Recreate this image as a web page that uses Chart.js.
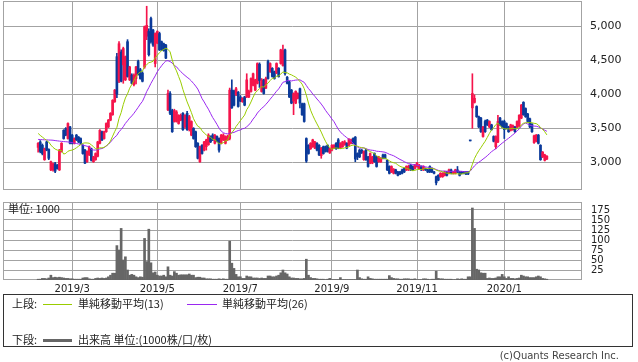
<!DOCTYPE html>
<html><head><meta charset="utf-8">
<script src="https://cdn.jsdelivr.net/npm/chart.js@4.4.1/dist/chart.umd.min.js"></script>
<style>
html,body{margin:0;padding:0;background:#fff}
#wrap{position:relative;width:638px;height:362px;overflow:hidden;color:#222;font-family:"Noto Sans CJK JP","DejaVu Sans",sans-serif}
canvas{position:absolute;left:0}
#c1{top:0}
#c2{top:195px}
.t{position:absolute;white-space:nowrap;font-size:11px;line-height:13px}
.ln{position:absolute}
#box{position:absolute;left:3px;top:294px;width:630px;height:53px;border:1px solid #333;box-sizing:border-box}
#copy{position:absolute;right:19px;top:350px;font-family:"DejaVu Sans",sans-serif;font-size:10px;line-height:12px;color:#444}
</style></head>
<body><div id="wrap">
<canvas id="c1" width="638" height="195"></canvas>
<canvas id="c2" width="638" height="105"></canvas>
<div class="t" id="unit" style="left:8px;top:202px">単位: 1000</div>
<div id="box"></div>
<div class="t" style="left:12px;top:297px">上段:</div>
<div class="ln" style="left:43px;top:304px;width:29px;height:1px;background:#99cc00"></div>
<div class="t" style="left:78px;top:297px">単純移動平均(13)</div>
<div class="ln" style="left:187px;top:304px;width:30px;height:1px;background:#9a28f0"></div>
<div class="t" style="left:222px;top:297px">単純移動平均(26)</div>
<div class="t" style="left:12px;top:333px">下段:</div>
<div class="ln" style="left:43px;top:339px;width:29px;height:3px;background:#666"></div>
<div class="t" style="left:78px;top:333px">出来高 単位:(1000株/口/枚)</div>
<div id="copy">(c)Quants Research Inc.</div>
</div>
<script>
const RED='#f5144b', BLUE='#0b3a9a', GREEN='#99cc00', PURPLE='#9a28f0', VOL='#666666', GRID='#a3a3a3';

// trading days shown on the axis
const months=['2019/1','2019/2','2019/3','2019/4','2019/5','2019/6','2019/7','2019/8','2019/9','2019/10','2019/11','2019/12','2020/1','2020/2'];
const monthDays=[
[15,16,17,18,21,22,23,24,25,28,29,30,31],
[1,4,5,6,7,8,12,13,14,15,18,19,20,21,22,25,26,27,28],
[1,4,5,6,7,8,11,12,13,14,15,18,19,20,22,25,26,27,28,29],
[1,2,3,4,5,8,9,10,11,12,15,16,17,18,19,22,23,24,25,26],
[7,8,9,10,13,14,15,16,17,20,21,22,23,24,27,28,29,30,31],
[3,4,5,6,7,10,11,12,13,14,17,18,19,20,21,24,25,26,27,28],
[1,2,3,4,5,8,9,10,11,12,16,17,18,19,22,23,24,25,26,29,30,31],
[1,2,5,6,7,8,9,13,14,15,16,19,20,21,22,23,26,27,28,29,30],
[2,3,4,5,6,9,10,11,12,13,17,18,19,20,24,25,26,27,30],
[1,2,3,4,7,8,9,10,11,15,16,17,18,21,23,24,25,28,29,30,31],
[1,5,6,7,8,11,12,13,14,15,18,19,20,21,22,25,26,27,28,29],
[2,3,4,5,6,9,10,11,12,13,16,17,18,19,20,23,24,25,26,27,30],
[6,7,8,9,10,14,15,16,17,20,21,22,23,24,27,28,29,30,31],
[3,4,5,6,7,10,12,13,14,17,18,19,20,21,25,26,27,28]];
const firstDay='2019/2/6';
const tickMonths=['2019/3','2019/5','2019/7','2019/9','2019/11','2020/1'];
const priceTicks=[3000,3500,4000,4500,5000];
const volumeTicks=[25,50,75,100,125,150,175];

const opens=[
3220,3300,3250,3040,3300,3190,2890,2890,2980,2960,
2890,3160,3470,3500,3350,3520,3400,3280,3400,3370,
3350,3250,3180,3010,3110,3200,3010,3040,3090,3280,
3450,3350,3450,3520,3620,3700,3890,4550,4190,4620,
4430,4210,4770,4210,4280,4140,4230,4480,4360,4310,
4400,4850,4920,5110,4940,4450,4750,4890,4770,4740,
4720,3770,4010,3760,3600,3600,3570,3620,3720,3520,
3720,3480,3400,3500,3450,3280,3010,3250,3180,3230,
3260,3380,3400,3280,3380,3350,3280,3330,3280,3330,
3350,4060,4050,3990,4030,3960,3890,3960,3960,3960,
4040,4130,4060,4160,4440,4040,4210,4090,4480,4330,
4380,4330,4310,4380,4450,4420,4650,4250,4180,4060,
3900,3870,3940,4080,3860,3860,3350,3250,3200,3230,
3210,3280,3250,3100,3230,3230,3250,3140,3180,3210,
3280,3330,3210,3230,3260,3280,3250,3280,3350,3370,
3130,3180,3180,3040,3180,3080,2990,2990,3130,3080,
3010,3010,3110,3110,3030,2940,2860,2840,2890,2860,
2860,2890,2910,2890,2890,2960,2940,2910,2940,2910,
2940,2890,2910,2890,2940,2910,2860,2790,2810,2790,
2790,2810,2860,2840,2890,2840,2840,2890,2860,2860,
2860,2860,2860,3325,3800,3880,3820,3670,3650,3380,
3600,3620,3520,3550,3380,3230,3300,3650,3600,3600,
3570,3520,3470,3480,3520,3520,3530,3650,3880,3790,
3710,3640,3560,3290,3310,3400,3250,3080,3030,3050];
const highs=[
3290,3320,3270,3210,3310,3200,3020,2990,3000,2970,
3190,3290,3480,3510,3580,3530,3410,3360,3410,3380,
3360,3260,3190,3170,3240,3210,3090,3140,3310,3480,
3460,3460,3580,3630,3730,3920,4070,4600,4770,4650,
4690,4560,4800,4410,4300,4300,4410,4500,4380,4330,
5000,5290,4960,5130,4950,4900,4930,4910,4780,4750,
4730,4060,4040,3780,3780,3760,3700,3710,3730,3700,
3750,3690,3610,3510,3460,3290,3240,3260,3310,3340,
3420,3390,3420,3410,3390,3360,3410,3420,3390,3400,
4090,4210,4060,4100,4040,3980,3950,3970,4300,4060,
4240,4310,4220,4460,4460,4230,4220,4250,4500,4460,
4390,4340,4460,4390,4660,4720,4660,4260,4190,4070,
4020,4050,4020,4090,3870,3870,3360,3260,3290,3340,
3310,3290,3260,3220,3240,3240,3260,3210,3260,3260,
3290,3350,3290,3310,3320,3290,3350,3340,3360,3380,
3140,3190,3190,3170,3190,3090,3140,3090,3140,3090,
3090,3070,3120,3120,3040,2950,2950,2910,2900,2870,
2870,2900,2920,2950,2960,2970,2950,2970,3000,2970,
2950,2950,2920,2900,2950,2920,2870,2800,2820,2850,
2850,2870,2870,2900,2900,2870,2900,2940,2870,2870,
2870,2870,2870,3325,4300,3990,3830,3680,3660,3530,
3620,3630,3610,3560,3390,3390,3690,3660,3610,3620,
3580,3530,3560,3550,3530,3610,3700,3850,3890,3800,
3720,3650,3570,3400,3410,3410,3260,3160,3120,3100];
const lows=[
3150,3140,3110,3030,3170,3040,2880,2870,2850,2900,
2880,3150,3340,3390,3340,3270,3270,3270,3320,3290,
3270,3120,2980,3000,3100,3020,3000,3030,3080,3270,
3320,3340,3440,3510,3610,3690,3880,3950,4170,4180,
4160,4200,4250,4200,4150,4120,4150,4280,4220,4180,
4380,4800,4560,4750,4700,4400,4740,4640,4640,4630,
4520,3760,3700,3440,3590,3590,3560,3610,3470,3500,
3470,3460,3390,3340,3220,3050,3000,3120,3170,3180,
3250,3290,3320,3270,3300,3150,3270,3320,3270,3320,
3330,3790,3830,3980,3810,3890,3880,3830,3950,3950,
4030,4120,4050,4150,4100,4030,4000,4080,4220,4320,
4250,4220,4300,4250,4440,4410,4280,4150,3950,3860,
3700,3860,3930,3800,3690,3590,3000,3120,3190,3220,
3200,3170,3100,3060,3120,3150,3150,3130,3170,3200,
3190,3200,3200,3220,3250,3200,3240,3270,3270,3010,
3040,3070,3130,3030,3030,2930,2980,2980,3000,2930,
3000,3000,3050,3050,2880,2830,2850,2830,2830,2800,
2820,2830,2850,2880,2880,2880,2880,2900,2930,2900,
2880,2880,2880,2850,2850,2850,2830,2670,2730,2780,
2780,2800,2800,2830,2830,2830,2830,2850,2800,2830,
2830,2820,2820,3315,3500,3870,3660,3510,3440,3370,
3440,3540,3510,3470,3300,3200,3290,3540,3510,3350,
3490,3440,3460,3470,3440,3510,3520,3640,3690,3660,
3590,3510,3440,3280,3300,3270,3030,3070,3020,3040];
const closes=[
3280,3160,3130,3200,3180,3060,3010,2980,2870,2910,
3180,3280,3350,3400,3570,3280,3280,3350,3330,3300,
3280,3130,2990,3160,3230,3030,3080,3130,3300,3470,
3330,3450,3570,3620,3720,3910,4060,4000,4740,4190,
4670,4550,4260,4400,4160,4280,4400,4290,4230,4190,
4990,5010,4580,4770,4720,4890,4920,4650,4650,4640,
4530,4010,3720,3450,3760,3740,3690,3690,3480,3690,
3480,3670,3600,3350,3230,3060,3230,3130,3300,3330,
3400,3300,3330,3400,3310,3180,3400,3400,3380,3380,
4060,3800,3840,4080,3820,3900,3940,3840,4210,4040,
4230,4300,4210,4450,4200,4210,4010,4230,4230,4450,
4260,4230,4450,4260,4650,4640,4300,4160,3960,3870,
4010,4040,4010,3870,3700,3600,3020,3130,3280,3330,
3300,3180,3110,3210,3130,3160,3160,3200,3250,3250,
3200,3210,3280,3300,3300,3210,3340,3330,3280,3050,
3080,3080,3140,3160,3040,2940,3130,3080,3010,2940,
3080,3060,3060,3060,2890,2840,2940,2900,2840,2810,
2830,2840,2860,2940,2940,2890,2890,2960,2990,2960,
2890,2940,2890,2860,2860,2860,2840,2700,2740,2840,
2840,2860,2810,2890,2840,2860,2890,2860,2810,2840,
2840,2830,2830,3315,4010,3940,3670,3520,3450,3520,
3450,3550,3600,3480,3310,3380,3600,3550,3520,3480,
3500,3450,3550,3540,3450,3600,3690,3840,3700,3670,
3600,3520,3450,3390,3400,3280,3040,3150,3110,3090];
const volumes=[
2,2,4,4,3,5,12,6,7,6,
7,6,5,4,4,3,3,2,2,2,
2,5,6,6,3,2,2,4,5,4,
5,4,5,8,12,17,17,86,75,129,
50,58,25,12,14,12,8,6,8,7,
104,46,127,43,18,20,12,10,10,12,
8,33,12,10,21,17,12,13,13,13,
13,15,12,12,6,7,7,5,5,3,
3,3,2,2,2,3,2,3,2,2,
97,42,29,14,8,8,4,4,10,8,
8,5,5,5,4,5,4,4,10,10,
8,8,10,12,18,25,18,15,8,5,
5,4,4,3,3,4,52,12,6,4,
4,3,2,2,2,1,2,4,1,1,
1,1,6,1,1,1,1,1,1,1,
25,6,3,2,2,8,4,3,2,2,
2,2,2,2,2,11,6,4,3,3,
2,2,3,3,3,2,2,3,1,1,
1,3,3,2,1,2,2,22,4,3,
3,2,2,2,2,1,1,3,2,3,
2,2,8,8,180,129,27,25,18,17,
17,4,5,4,4,5,8,8,14,8,
4,8,4,4,3,4,5,12,10,8,
8,6,6,6,8,10,8,4,3,2];
// moving-average values for the first days (earlier closes not shown)
const ma13Start=[3425,3396,3371,3347,3323,3298,3254,3220,3195,3181,3171,3176];
const ma26Start=[3337,3335,3333,3331,3330,3328,3327,3325,3320,3316,3312,3308,3305,3303,3300,3295,3290,3283,3277,3270,3262,3255,3245,3237,3230];

// ---- build tables for Chart.js ----
const categories=months.flatMap((m,k)=>monthDays[k].map(d=>m+'/'+d));
const startIdx=categories.indexOf(firstDay);
function pad(arr){const out=new Array(categories.length).fill(null);arr.forEach((v,k)=>{out[startIdx+k]=v;});return out;}
function sma(n,seed){return closes.map((c,i)=>i<n-1?seed[i]:closes.slice(i-n+1,i+1).reduce((a,b)=>a+b,0)/n);}
const colors=pad(closes.map((c,k)=>c>opens[k]?RED:BLUE));
const bodies=pad(closes.map((c,k)=>[opens[k],c]));
const wicks=pad(lows.map((l,k)=>[l,highs[k]]));
const ma13=pad(sma(13,ma13Start));
const ma26=pad(sma(26,ma26Start));
const tickIdx=tickMonths.map(m=>categories.findIndex(c=>c.startsWith(m+'/')));

const frame={id:'frame',beforeDatasetsDraw(chart){const {ctx,chartArea:a}=chart;ctx.save();ctx.strokeStyle=GRID;ctx.lineWidth=1;ctx.strokeRect(a.left+0.5,a.top+0.5,a.right-a.left-1,a.bottom-a.top-1);ctx.restore();}};
const FONT='"DejaVu Sans", sans-serif';
function fitY(s){s.width=56;s.paddingTop=0;s.paddingBottom=0;}

new Chart(document.getElementById('c1'),{
  type:'bar',
  data:{labels:categories,datasets:[
    {type:'line',data:ma13,borderColor:GREEN,borderWidth:1,pointRadius:0,tension:0,order:0},
    {type:'line',data:ma26,borderColor:PURPLE,borderWidth:1,pointRadius:0,tension:0,order:0},
    {data:bodies,backgroundColor:colors,barThickness:2,grouped:false,minBarLength:1,order:1},
    {data:wicks,backgroundColor:colors,barThickness:1,grouped:false,order:2}
  ]},
  options:{responsive:false,animation:false,devicePixelRatio:1,
    layout:{padding:{left:3,top:1,right:0,bottom:5}},
    plugins:{legend:{display:false},tooltip:{enabled:false}},
    scales:{
      x:{offset:true,grid:{offset:false,color:GRID,drawTicks:false},border:{display:false},ticks:{display:false},
         afterBuildTicks:s=>{s.ticks=tickIdx.map(v=>({value:v}));},afterFit:s=>{s.height=0;s.paddingLeft=0;s.paddingRight=0;}},
      y:{position:'right',min:2595,max:5367,grid:{color:GRID,drawTicks:false},border:{display:false},
         ticks:{autoSkip:false,padding:8,color:'#222',font:{family:FONT,size:11},callback:v=>v.toLocaleString('en-US')},
         afterBuildTicks:s=>{s.ticks=priceTicks.map(v=>({value:v}));},afterFit:fitY}
    }
  },
  plugins:[frame]
});

new Chart(document.getElementById('c2'),{
  type:'bar',
  data:{labels:categories,datasets:[{data:pad(volumes),backgroundColor:VOL,barThickness:2}]},
  options:{responsive:false,animation:false,devicePixelRatio:1,
    layout:{padding:{left:3,top:7,right:0,bottom:0}},
    plugins:{legend:{display:false},tooltip:{enabled:false}},
    scales:{
      x:{offset:true,grid:{offset:false,color:GRID,drawTicks:false},border:{display:false},
         ticks:{autoSkip:false,maxRotation:0,padding:3,color:'#222',font:{family:FONT,size:10},callback:(v,i)=>tickMonths[i]},
         afterBuildTicks:s=>{s.ticks=tickIdx.map(v=>({value:v}));},afterFit:s=>{s.height=20;s.paddingLeft=0;s.paddingRight=0;}},
      y:{position:'right',min:0,max:195,grid:{color:GRID,drawTicks:false},border:{display:false},
         ticks:{autoSkip:false,padding:9,color:'#222',font:{family:FONT,size:10}},
         afterBuildTicks:s=>{s.ticks=volumeTicks.map(v=>({value:v}));},afterFit:fitY}
    }
  },
  plugins:[frame]
});
</script>
</body></html>
